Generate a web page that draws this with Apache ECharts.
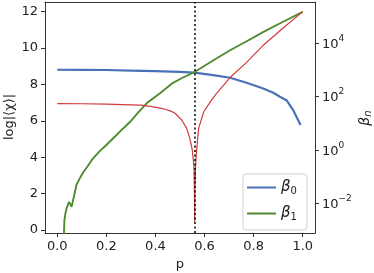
<!DOCTYPE html>
<html><head><meta charset="utf-8">
<script src="https://cdn.jsdelivr.net/npm/echarts@6/dist/echarts.min.js"></script>
<style>html,body{margin:0;padding:0;background:#fff}#c{width:374px;height:273px}</style>
</head><body><div id="c"></div>
<script>
// log|<chi>| (left axis)
const pRed = [0.0,0.1,0.2,0.3,0.34,0.38,0.42,0.44,0.465,0.48,0.507,0.527,0.54,0.55,0.555,0.557,0.5588,0.5598,0.561,0.563,0.566,0.576,0.597,0.624,0.644,0.704,0.77,0.839,0.92,1.0];
const logChi = [6.95,6.94,6.92,6.88,6.86,6.8,6.7,6.64,6.52,6.42,6.05,5.6,5.04,4.4,3.76,3.3,2.2,0.45,2.2,3.4,4.13,5.6,6.5,7.06,7.43,8.38,9.2,10.15,11.1,12.0];
// beta_0, as log10 (right axis, decades)
const pB0 = [0.0,0.1,0.2,0.3,0.4,0.5,0.558,0.635,0.704,0.771,0.839,0.88,0.907,0.934,0.961,0.991];
const log10Beta0 = [3.0,2.995,2.99,2.97,2.95,2.92,2.89,2.80,2.70,2.51,2.30,2.14,1.99,1.86,1.49,0.93];
// beta_1, as log10 (right axis, decades)
const pB1 = [0.027,0.029,0.033,0.038,0.048,0.058,0.068,0.078,0.09,0.104,0.125,0.145,0.17,0.2,0.23,0.255,0.297,0.33,0.365,0.42,0.47,0.51,0.555,0.6,0.65,0.706,0.77,0.84,0.92,1.0];
const log10Beta1 = [-3.2,-2.64,-2.4,-2.19,-1.95,-2.14,-1.75,-1.32,-1.1,-0.87,-0.6,-0.33,-0.08,0.18,0.45,0.68,1.05,1.4,1.75,2.13,2.5,2.7,2.89,3.15,3.43,3.74,4.06,4.42,4.8,5.17];
const pCritical = 0.56;

const zip = (a,b) => a.map((v,i)=>[v,b[i]]);
const chart = echarts.init(document.getElementById('c'), null, {renderer:'canvas'});
const font = 'DejaVu Sans';
const frame = {show:true,onZero:false,lineStyle:{color:'#333',width:1}};
const lineIcon = 'path://M0,0H29V2H0Z';
chart.setOption({
  animation:false,
  textStyle:{fontFamily:font},
  grid:{left:45,right:59,top:2,bottom:40,outerBoundsMode:'none',containLabel:false},
  graphic:[
    {type:'text',x:10,y:117,rotation:Math.PI/2,
     style:{text:'log|⟨χ⟩|',fontSize:13,fontFamily:font,fill:'#222',align:'center',verticalAlign:'middle'}},
    {type:'text',x:365,y:118,rotation:Math.PI/2,
     style:{text:'{b|β}{s|n}',align:'center',verticalAlign:'middle',
       rich:{b:{fontSize:14,fontStyle:'italic',fontFamily:font,fill:'#222'},s:{fontSize:10,fontStyle:'italic',fontFamily:font,fill:'#222',padding:[6,0,0,0]}}}}
  ],
  legend:{
    orient:'vertical', left:243, top:174, padding:[6,10,8,4], itemGap:10,
    itemWidth:29, itemHeight:14,
    borderColor:'#d0d0d0', borderWidth:1, borderRadius:3, backgroundColor:'rgba(255,255,255,0.85)',
    data:[{name:'β0',icon:lineIcon},{name:'β1',icon:lineIcon}],
    formatter: n => '{b|β}{s|' + n.slice(1) + '}',
    textStyle:{rich:{b:{fontSize:15,fontStyle:'italic',fontFamily:font,color:'#222'},s:{fontSize:10,fontFamily:font,color:'#222',padding:[7,0,0,0]}}}
  },
  xAxis:[
    {type:'value',min:-0.05,max:1.05,splitNumber:5,
    name:'p',nameLocation:'middle',nameGap:25,nameTextStyle:{fontSize:13,color:'#222',fontFamily:font},
    axisLine:frame,axisTick:{show:true,length:4,lineStyle:{color:'#333'}},
    axisLabel:{fontSize:13,color:'#222',margin:7,showMinLabel:false,showMaxLabel:false,formatter:v=>v.toFixed(1)},
    splitLine:{show:false}},
    {type:'value',position:'top',min:-0.05,max:1.05,axisLine:frame,axisTick:{show:false},axisLabel:{show:false},splitLine:{show:false}}
  ],
  yAxis:[
    {type:'value',min:-0.16,max:12.53,splitNumber:6,position:'left',
     axisLine:frame,axisTick:{show:true,length:4,lineStyle:{color:'#333'}},
     axisLabel:{fontSize:13,color:'#222',margin:7,showMinLabel:false,showMaxLabel:false},
     splitLine:{show:false}},
    {type:'value',min:-3.12,max:5.54,splitNumber:4,position:'right',
     axisLine:frame,axisTick:{show:true,length:4,lineStyle:{color:'#333'}},
     axisLabel:{margin:7,showMinLabel:false,showMaxLabel:false,
       formatter:v=>{const e=Math.round(v);return '{b|10}{s|'+(e<0?'−'+(-e):e)+'}';},
       rich:{b:{fontSize:13,color:'#222',fontFamily:font,padding:[3,0,0,0]},s:{fontSize:9,color:'#222',fontFamily:font,padding:[0,0,9,0]}}},
     splitLine:{show:false}}
  ],
  series:[
    {name:'log|χ|',type:'line',yAxisIndex:0,data:zip(pRed,logChi),symbol:'none',lineStyle:{color:'#d03b3b',width:1.2},z:3,
     markLine:{silent:true,symbol:'none',label:{show:false},lineStyle:{color:'#000',type:[2,2.5],width:1.5},data:[{xAxis:pCritical}]}},
    {name:'β0',type:'line',yAxisIndex:1,data:zip(pB0,log10Beta0),symbol:'none',lineStyle:{color:'#4a72b8',width:2.2},itemStyle:{color:'#4a72b8'},z:2},
    {name:'β1',type:'line',yAxisIndex:1,data:zip(pB1,log10Beta1),symbol:'none',lineStyle:{color:'#4f8a2f',width:1.9},itemStyle:{color:'#4f8a2f'},z:2}
  ]
});
</script></body></html>
